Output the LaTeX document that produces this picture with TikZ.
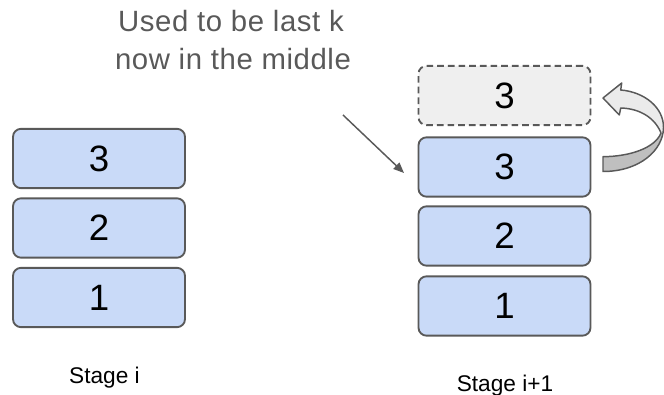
\documentclass[tikz,border=0pt]{standalone}
\usepackage{fontspec}
\setmainfont{Liberation Sans}
\usetikzlibrary{arrows.meta}
\definecolor{boxblue}{HTML}{C9DAF8}
\definecolor{edgegray}{HTML}{595959}
\definecolor{ghostfill}{HTML}{EFEFEF}
\definecolor{bandlight}{HTML}{EBEBEB}
\definecolor{banddark}{HTML}{BFBFBF}
\tikzset{
  slot/.style={draw=edgegray, line width=1.4pt, rounded corners=6pt,
    minimum width=129pt, minimum height=44.5pt, inner sep=0pt,
    font=\fontsize{27.5}{30}\selectfont},
  filled/.style={slot, fill=boxblue},
  ghost/.style={slot, fill=ghostfill, dashed, dash pattern=on 5pt off 3pt},
  notetext/.style={text=edgegray, anchor=base, inner sep=0pt,
    font=\fontsize{22}{24}\selectfont\addfontfeatures{LetterSpace=2}},
  stagetext/.style={anchor=base, inner sep=0pt, font=\fontsize{17}{20}\selectfont},
  pointer/.style={draw=edgegray, line width=1.1pt,
    -{Triangle[length=8pt,width=6.5pt]}},
}
\def\turnpath{(603,98) -- (621.7,83) -- (620.7,90)
  .. controls (645,92) and (664,108) .. (663.5,128)
  .. controls (663,150) and (640,171.5) .. (603,171.5) -- (603,156.7)
  .. controls (630,156.5) and (655,148) .. (661,133)
  .. controls (655,118) and (640,108.5) .. (620.7,108) -- (619.3,115) -- cycle}
\begin{document}
\begin{tikzpicture}[x=0.75pt,y=-0.75pt]
  \useasboundingbox (0,0) rectangle (664,395);

  % stack at stage i
  \node[filled] (l3) at (99,158.5) {3};
  \node[filled] (l2) at (99,228) {2};
  \node[filled] (l1) at (99,297.5) {1};
  \node[stagetext] (stagei) at (104.5,383) {Stage i};

  % stack at stage i+1
  \node[ghost]  (g3) at (504.5,95.5) {3};
  \node[filled] (r3) at (504.5,167) {3};
  \node[filled] (r2) at (504.5,236) {2};
  \node[filled] (r1) at (504.5,306) {1};
  \node[stagetext] (stagej) at (505,391) {Stage i+1};

  % annotation
  \node[notetext] (note1) at (231,31.7) {Used to be last k};
  \node[notetext] (note2) at (233,69.3) {now in the middle};
  \coordinate (ptail) at (343,115);
  \coordinate (phead) at (404,173);
  \draw[pointer] (ptail) -- (phead);

  % curved block arrow from the top slot back to its ghost copy
  \fill[bandlight] \turnpath;
  \begin{scope}
    \clip (560,134) rectangle (664,200);
    \fill[banddark] \turnpath;
  \end{scope}
  \draw[edgegray, line width=1.1pt, line join=round] \turnpath;
\end{tikzpicture}
\end{document}
